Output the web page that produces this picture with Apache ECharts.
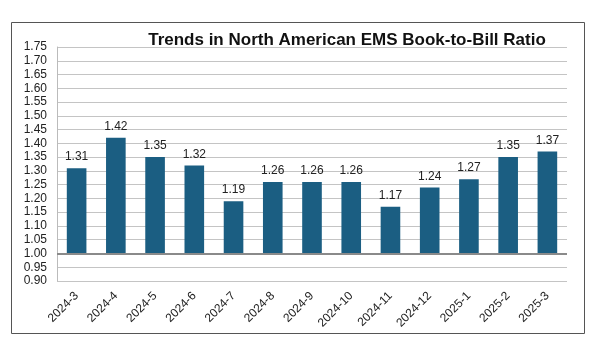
<!DOCTYPE html>
<html>
<head>
<meta charset="utf-8">
<script src="https://cdn.jsdelivr.net/npm/echarts@6/dist/echarts.min.js"></script>
<style>html,body{margin:0;padding:0;background:#fff}#c{width:600px;height:355px}</style>
</head>
<body>
<div id="c"></div>
<script>
const titleText = 'Trends in North American EMS Book-to-Bill Ratio';
const categories = ['2024-3','2024-4','2024-5','2024-6','2024-7','2024-8','2024-9','2024-10','2024-11','2024-12','2025-1','2025-2','2025-3'];
const ratios = [1.31,1.42,1.35,1.32,1.19,1.26,1.26,1.26,1.17,1.24,1.27,1.35,1.37];
const baseValue = 1.00;
const yMin = 0.90, yMax = 1.75, yStep = 0.05;

const chart = echarts.init(document.getElementById('c'), null, {renderer:'canvas'});
const font = '"Liberation Sans", Arial, sans-serif';
const barColor = '#1b5e82';

chart.setOption({
  animation: false,
  graphic: [{
    type: 'rect', z: -10,
    shape: {x: 11.5, y: 22.5, width: 573, height: 311},
    style: {fill: '#fff', stroke: '#555', lineWidth: 1}
  }],
  title: {
    text: titleText, left: 342, top: 27, textAlign: 'center',
    textStyle: {fontFamily: font, fontSize: 17, fontWeight: 'bold', color: '#111'}
  },
  grid: {left: 57, right: 33, top: 47, bottom: 74, containLabel: false},
  xAxis: {
    type: 'category', data: categories,
    axisTick: {show: false},
    axisLine: {show: false},
    axisLabel: {rotate: 45, color: '#222', fontFamily: font, fontSize: 12, margin: 13, interval: 0}
  },
  yAxis: {
    type: 'value', min: yMin, max: yMax, interval: yStep,
    axisLine: {show: true, lineStyle: {color: '#bbb', width: 1}},
    axisTick: {show: false},
    axisLabel: {color: '#222', fontFamily: font, fontSize: 12, margin: 10, formatter: v => v.toFixed(2)},
    splitLine: {lineStyle: {color: '#c4c4c4', width: 1}}
  },
  series: [{
    type: 'custom',
    data: ratios.map((v, i) => [i, v]),
    encode: {x: 0, y: 1},
    renderItem: function (params, api) {
      const v = api.value(1);
      const top = api.coord([api.value(0), v]);
      const base = api.coord([api.value(0), baseValue]);
      const w = api.size([1, 0])[0] * 0.5;
      return {
        type: 'rect',
        shape: {x: top[0] - w / 2, y: top[1], width: w, height: base[1] - top[1]},
        style: {fill: barColor},
        textContent: {style: {text: v.toFixed(2), fill: '#222', font: '12px ' + font}},
        textConfig: {position: 'top', distance: 5}
      };
    },
    markLine: {
      silent: true, symbol: 'none', z: 10,
      label: {show: false},
      lineStyle: {color: '#8a8a8a', width: 2, type: 'solid'},
      data: [{yAxis: baseValue}]
    }
  }]
});
</script>
</body>
</html>
